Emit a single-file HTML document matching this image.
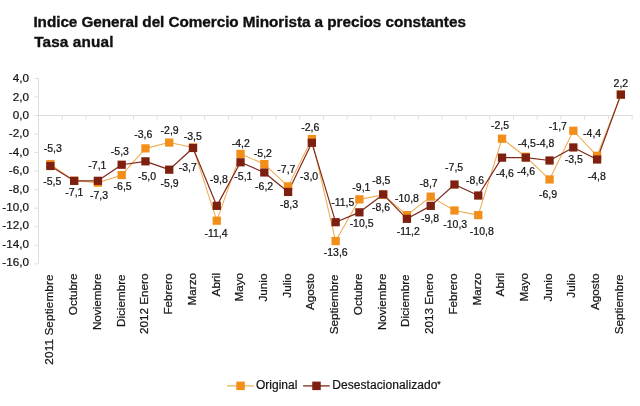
<!DOCTYPE html>
<html><head><meta charset="utf-8"><title>Chart</title>
<style>html,body{margin:0;padding:0;background:#fff;}body{width:640px;height:406px;position:relative;overflow:hidden;font-family:"Liberation Sans",sans-serif;}</style></head>
<body>
<svg width="640" height="406" viewBox="0 0 640 406" style="position:absolute;left:0;top:0;will-change:transform;filter:blur(0.3px)">
<rect width="640" height="406" fill="#fff"/>
<g stroke="#dedede" stroke-width="1" fill="none">
<line x1="38.5" y1="77.92" x2="38.5" y2="263.32"/>
<line x1="38.5" y1="115.5" x2="632.75" y2="115.5"/>
<line x1="34.5" y1="78.42" x2="38.5" y2="78.42"/>
<line x1="34.5" y1="96.96" x2="38.5" y2="96.96"/>
<line x1="34.5" y1="115.50" x2="38.5" y2="115.50"/>
<line x1="34.5" y1="134.04" x2="38.5" y2="134.04"/>
<line x1="34.5" y1="152.58" x2="38.5" y2="152.58"/>
<line x1="34.5" y1="171.12" x2="38.5" y2="171.12"/>
<line x1="34.5" y1="189.66" x2="38.5" y2="189.66"/>
<line x1="34.5" y1="208.20" x2="38.5" y2="208.20"/>
<line x1="34.5" y1="226.74" x2="38.5" y2="226.74"/>
<line x1="34.5" y1="245.28" x2="38.5" y2="245.28"/>
<line x1="34.5" y1="263.82" x2="38.5" y2="263.82"/>
<line x1="62.25" y1="115.5" x2="62.25" y2="119.5"/>
<line x1="85.99" y1="115.5" x2="85.99" y2="119.5"/>
<line x1="109.73" y1="115.5" x2="109.73" y2="119.5"/>
<line x1="133.48" y1="115.5" x2="133.48" y2="119.5"/>
<line x1="157.23" y1="115.5" x2="157.23" y2="119.5"/>
<line x1="180.97" y1="115.5" x2="180.97" y2="119.5"/>
<line x1="204.72" y1="115.5" x2="204.72" y2="119.5"/>
<line x1="228.46" y1="115.5" x2="228.46" y2="119.5"/>
<line x1="252.21" y1="115.5" x2="252.21" y2="119.5"/>
<line x1="275.95" y1="115.5" x2="275.95" y2="119.5"/>
<line x1="299.69" y1="115.5" x2="299.69" y2="119.5"/>
<line x1="323.44" y1="115.5" x2="323.44" y2="119.5"/>
<line x1="347.19" y1="115.5" x2="347.19" y2="119.5"/>
<line x1="370.93" y1="115.5" x2="370.93" y2="119.5"/>
<line x1="394.68" y1="115.5" x2="394.68" y2="119.5"/>
<line x1="418.42" y1="115.5" x2="418.42" y2="119.5"/>
<line x1="442.17" y1="115.5" x2="442.17" y2="119.5"/>
<line x1="465.91" y1="115.5" x2="465.91" y2="119.5"/>
<line x1="489.66" y1="115.5" x2="489.66" y2="119.5"/>
<line x1="513.40" y1="115.5" x2="513.40" y2="119.5"/>
<line x1="537.14" y1="115.5" x2="537.14" y2="119.5"/>
<line x1="560.89" y1="115.5" x2="560.89" y2="119.5"/>
<line x1="584.63" y1="115.5" x2="584.63" y2="119.5"/>
<line x1="608.38" y1="115.5" x2="608.38" y2="119.5"/>
<line x1="632.12" y1="115.5" x2="632.12" y2="119.5"/>
</g>
<g font-family="Liberation Sans, sans-serif" font-size="11.7" fill="#141414" stroke="#141414" stroke-width="0.22" text-anchor="end">
<text x="28.9" y="82.20">4,0</text>
<text x="28.9" y="100.60">2,0</text>
<text x="28.9" y="119.00">0,0</text>
<text x="28.9" y="137.40">-2,0</text>
<text x="28.9" y="155.80">-4,0</text>
<text x="28.9" y="174.20">-6,0</text>
<text x="28.9" y="192.60">-8,0</text>
<text x="28.9" y="211.00">-10,0</text>
<text x="28.9" y="229.40">-12,0</text>
<text x="28.9" y="247.80">-14,0</text>
<text x="28.9" y="266.20">-16,0</text>
</g>
<g font-family="Liberation Sans, sans-serif" font-size="11.7" fill="#141414" stroke="#141414" stroke-width="0.22" text-anchor="end">
<text transform="translate(53.40,274.4) rotate(-90)" letter-spacing="0.14">2011 Septiembre</text>
<text transform="translate(77.13,273.6) rotate(-90)">Octubre</text>
<text transform="translate(100.86,273.6) rotate(-90)">Noviembre</text>
<text transform="translate(124.59,274.4) rotate(-90)">Diciembre</text>
<text transform="translate(148.32,273.6) rotate(-90)">2012 Enero</text>
<text transform="translate(172.05,273.6) rotate(-90)">Febrero</text>
<text transform="translate(195.78,273.0) rotate(-90)">Marzo</text>
<text transform="translate(219.51,273.0) rotate(-90)">Abril</text>
<text transform="translate(243.24,273.0) rotate(-90)">Mayo</text>
<text transform="translate(266.97,273.6) rotate(-90)">Junio</text>
<text transform="translate(290.70,273.6) rotate(-90)">Julio</text>
<text transform="translate(314.43,273.6) rotate(-90)">Agosto</text>
<text transform="translate(338.16,274.4) rotate(-90)">Septiembre</text>
<text transform="translate(361.89,273.6) rotate(-90)">Octubre</text>
<text transform="translate(385.62,273.6) rotate(-90)">Noviembre</text>
<text transform="translate(409.35,274.4) rotate(-90)">Diciembre</text>
<text transform="translate(433.08,273.6) rotate(-90)">2013 Enero</text>
<text transform="translate(456.81,273.6) rotate(-90)">Febrero</text>
<text transform="translate(480.54,273.0) rotate(-90)">Marzo</text>
<text transform="translate(504.27,273.0) rotate(-90)">Abril</text>
<text transform="translate(528.00,273.0) rotate(-90)">Mayo</text>
<text transform="translate(551.73,273.6) rotate(-90)">Junio</text>
<text transform="translate(575.46,273.6) rotate(-90)">Julio</text>
<text transform="translate(599.19,273.6) rotate(-90)">Agosto</text>
<text transform="translate(622.92,274.4) rotate(-90)">Septiembre</text>
</g>
<polyline points="50.38,164.13 74.16,180.82 97.92,182.67 121.69,175.06 145.47,148.37 169.23,142.58 193.00,147.44 216.78,220.68 240.54,153.93 264.31,164.10 288.09,186.38 311.86,139.10 335.62,241.07 359.39,199.36 383.17,194.72 406.94,215.12 430.70,196.65 454.47,210.48 478.25,215.12 502.01,138.68 525.78,156.72 549.56,179.46 573.33,130.76 597.10,155.79 620.87,94.61" fill="none" stroke="#efaa50" stroke-width="1.05" stroke-linejoin="round"/>
<polyline points="50.38,165.99 74.16,180.82 97.92,180.82 121.69,164.73 145.47,161.35 169.23,169.69 193.00,148.00 216.78,205.85 240.54,162.28 264.31,172.47 288.09,191.94 311.86,142.81 335.62,222.20 359.39,212.33 383.17,194.40 406.94,218.82 430.70,205.85 454.47,184.52 478.25,195.52 502.01,157.64 525.78,157.64 549.56,160.50 573.33,147.44 597.10,159.50 620.87,94.61" fill="none" stroke="#7e2a1c" stroke-width="1.2" stroke-linejoin="round"/>
<rect x="46.23" y="160.03" width="8.3" height="8.2" fill="#f28e1a"/>
<rect x="70.00" y="176.72" width="8.3" height="8.2" fill="#f28e1a"/>
<rect x="93.77" y="178.57" width="8.3" height="8.2" fill="#f28e1a"/>
<rect x="117.54" y="170.96" width="8.3" height="8.2" fill="#f28e1a"/>
<rect x="141.31" y="144.27" width="8.3" height="8.2" fill="#f28e1a"/>
<rect x="165.08" y="138.48" width="8.3" height="8.2" fill="#f28e1a"/>
<rect x="188.85" y="143.34" width="8.3" height="8.2" fill="#f28e1a"/>
<rect x="212.62" y="216.58" width="8.3" height="8.2" fill="#f28e1a"/>
<rect x="236.39" y="149.83" width="8.3" height="8.2" fill="#f28e1a"/>
<rect x="260.17" y="160.00" width="8.3" height="8.2" fill="#f28e1a"/>
<rect x="283.94" y="182.28" width="8.3" height="8.2" fill="#f28e1a"/>
<rect x="307.71" y="135.00" width="8.3" height="8.2" fill="#f28e1a"/>
<rect x="331.48" y="236.97" width="8.3" height="8.2" fill="#f28e1a"/>
<rect x="355.25" y="195.26" width="8.3" height="8.2" fill="#f28e1a"/>
<rect x="379.02" y="190.62" width="8.3" height="8.2" fill="#f28e1a"/>
<rect x="402.79" y="211.02" width="8.3" height="8.2" fill="#f28e1a"/>
<rect x="426.56" y="192.55" width="8.3" height="8.2" fill="#f28e1a"/>
<rect x="450.32" y="206.38" width="8.3" height="8.2" fill="#f28e1a"/>
<rect x="474.10" y="211.02" width="8.3" height="8.2" fill="#f28e1a"/>
<rect x="497.87" y="134.58" width="8.3" height="8.2" fill="#f28e1a"/>
<rect x="521.63" y="152.62" width="8.3" height="8.2" fill="#f28e1a"/>
<rect x="545.41" y="175.36" width="8.3" height="8.2" fill="#f28e1a"/>
<rect x="569.18" y="126.66" width="8.3" height="8.2" fill="#f28e1a"/>
<rect x="592.95" y="151.69" width="8.3" height="8.2" fill="#f28e1a"/>
<rect x="616.72" y="90.51" width="8.3" height="8.2" fill="#f28e1a"/>
<rect x="46.23" y="161.89" width="8.3" height="8.2" fill="#7e2010"/>
<rect x="70.00" y="176.72" width="8.3" height="8.2" fill="#7e2010"/>
<rect x="93.77" y="176.72" width="8.3" height="8.2" fill="#7e2010"/>
<rect x="117.54" y="160.63" width="8.3" height="8.2" fill="#7e2010"/>
<rect x="141.31" y="157.25" width="8.3" height="8.2" fill="#7e2010"/>
<rect x="165.08" y="165.59" width="8.3" height="8.2" fill="#7e2010"/>
<rect x="188.85" y="143.90" width="8.3" height="8.2" fill="#7e2010"/>
<rect x="212.62" y="201.75" width="8.3" height="8.2" fill="#7e2010"/>
<rect x="236.39" y="158.18" width="8.3" height="8.2" fill="#7e2010"/>
<rect x="260.17" y="168.37" width="8.3" height="8.2" fill="#7e2010"/>
<rect x="283.94" y="187.84" width="8.3" height="8.2" fill="#7e2010"/>
<rect x="307.71" y="138.71" width="8.3" height="8.2" fill="#7e2010"/>
<rect x="331.48" y="218.10" width="8.3" height="8.2" fill="#7e2010"/>
<rect x="355.25" y="208.23" width="8.3" height="8.2" fill="#7e2010"/>
<rect x="379.02" y="190.30" width="8.3" height="8.2" fill="#7e2010"/>
<rect x="402.79" y="214.72" width="8.3" height="8.2" fill="#7e2010"/>
<rect x="426.56" y="201.75" width="8.3" height="8.2" fill="#7e2010"/>
<rect x="450.32" y="180.42" width="8.3" height="8.2" fill="#7e2010"/>
<rect x="474.10" y="191.42" width="8.3" height="8.2" fill="#7e2010"/>
<rect x="497.87" y="153.54" width="8.3" height="8.2" fill="#7e2010"/>
<rect x="521.63" y="153.54" width="8.3" height="8.2" fill="#7e2010"/>
<rect x="545.41" y="156.40" width="8.3" height="8.2" fill="#7e2010"/>
<rect x="569.18" y="143.34" width="8.3" height="8.2" fill="#7e2010"/>
<rect x="592.95" y="155.40" width="8.3" height="8.2" fill="#7e2010"/>
<rect x="616.72" y="90.51" width="8.3" height="8.2" fill="#7e2010"/>
<g font-family="Liberation Sans, sans-serif" font-size="10.5" fill="#141414" stroke="#141414" stroke-width="0.22" text-anchor="middle">
<text x="52.8" y="152.3">-5,3</text>
<text x="52.2" y="184.9">-5,5</text>
<text x="74.4" y="196.4">-7,1</text>
<text x="97.4" y="169.3">-7,1</text>
<text x="99" y="199.2">-7,3</text>
<text x="119.9" y="155.2">-5,3</text>
<text x="122.6" y="190">-6,5</text>
<text x="143.2" y="137.9">-3,6</text>
<text x="147" y="180.2">-5,0</text>
<text x="169.6" y="133.9">-2,9</text>
<text x="169.6" y="187.3">-5,9</text>
<text x="192.7" y="139.5">-3,5</text>
<text x="187.8" y="171.4">-3,7</text>
<text x="218.7" y="182.9">-9,8</text>
<text x="216" y="237.2">-11,4</text>
<text x="240.8" y="146.6">-4,2</text>
<text x="243.4" y="180.2">-5,1</text>
<text x="262.9" y="157.2">-5,2</text>
<text x="264.1" y="189.7">-6,2</text>
<text x="286.4" y="173.4">-7,7</text>
<text x="289" y="207.6">-8,3</text>
<text x="310.2" y="130.6">-2,6</text>
<text x="309.1" y="179.9">-3,0</text>
<text x="342.8" y="206.2">-11,5</text>
<text x="335.75" y="255.7">-13,6</text>
<text x="361.4" y="190.7">-9,1</text>
<text x="361.6" y="226.9">-10,5</text>
<text x="381.4" y="184.2">-8,5</text>
<text x="381" y="210.6">-8,6</text>
<text x="407" y="201.9">-10,8</text>
<text x="408.3" y="234.6">-11,2</text>
<text x="428.6" y="187.1">-8,7</text>
<text x="430" y="222.4">-9,8</text>
<text x="454.1" y="170.5">-7,5</text>
<text x="455.2" y="227.8">-10,3</text>
<text x="475.1" y="184.4">-8,6</text>
<text x="481.8" y="234.6">-10,8</text>
<text x="500" y="129.4">-2,5</text>
<text x="504.7" y="176.9">-4,6</text>
<text x="526.7" y="146.9">-4,5</text>
<text x="526" y="175.4">-4,6</text>
<text x="545.2" y="146.9">-4,8</text>
<text x="548" y="198.2">-6,9</text>
<text x="557.9" y="129.9">-1,7</text>
<text x="573.8" y="163.4">-3,5</text>
<text x="592.1" y="137.3">-4,4</text>
<text x="596.8" y="179.9">-4,8</text>
<text x="620.9" y="86.7">2,2</text>
</g>
<line x1="227.1" y1="385.9" x2="253.75" y2="385.9" stroke="#efaa50" stroke-width="1.2"/>
<rect x="236.3" y="381.6" width="8.5" height="8.5" fill="#f28e1a"/>
<line x1="303.1" y1="385.9" x2="329.7" y2="385.9" stroke="#7e2a1c" stroke-width="1.3"/>
<rect x="312.25" y="381.6" width="8.5" height="8.5" fill="#7e2010"/>
<g font-family="Liberation Sans, sans-serif" font-size="12" fill="#141414" stroke="#141414" stroke-width="0.22">
<text x="256" y="388.75">Original</text>
<text x="332.3" y="388.75" textLength="105.1" lengthAdjust="spacing">Desestacionalizado</text>
<text x="437.3" y="386.6" font-size="9">*</text>
</g>
<g font-family="Liberation Sans, sans-serif" font-size="15.3" font-weight="bold" fill="#101010" stroke="#101010" stroke-width="0.35">
<text x="33.4" y="27" textLength="432.5" lengthAdjust="spacing">Indice General del Comercio Minorista a precios constantes</text>
<text x="34.2" y="47.2" textLength="79.2" lengthAdjust="spacing">Tasa anual</text>
</g>
</svg>
</body></html>
